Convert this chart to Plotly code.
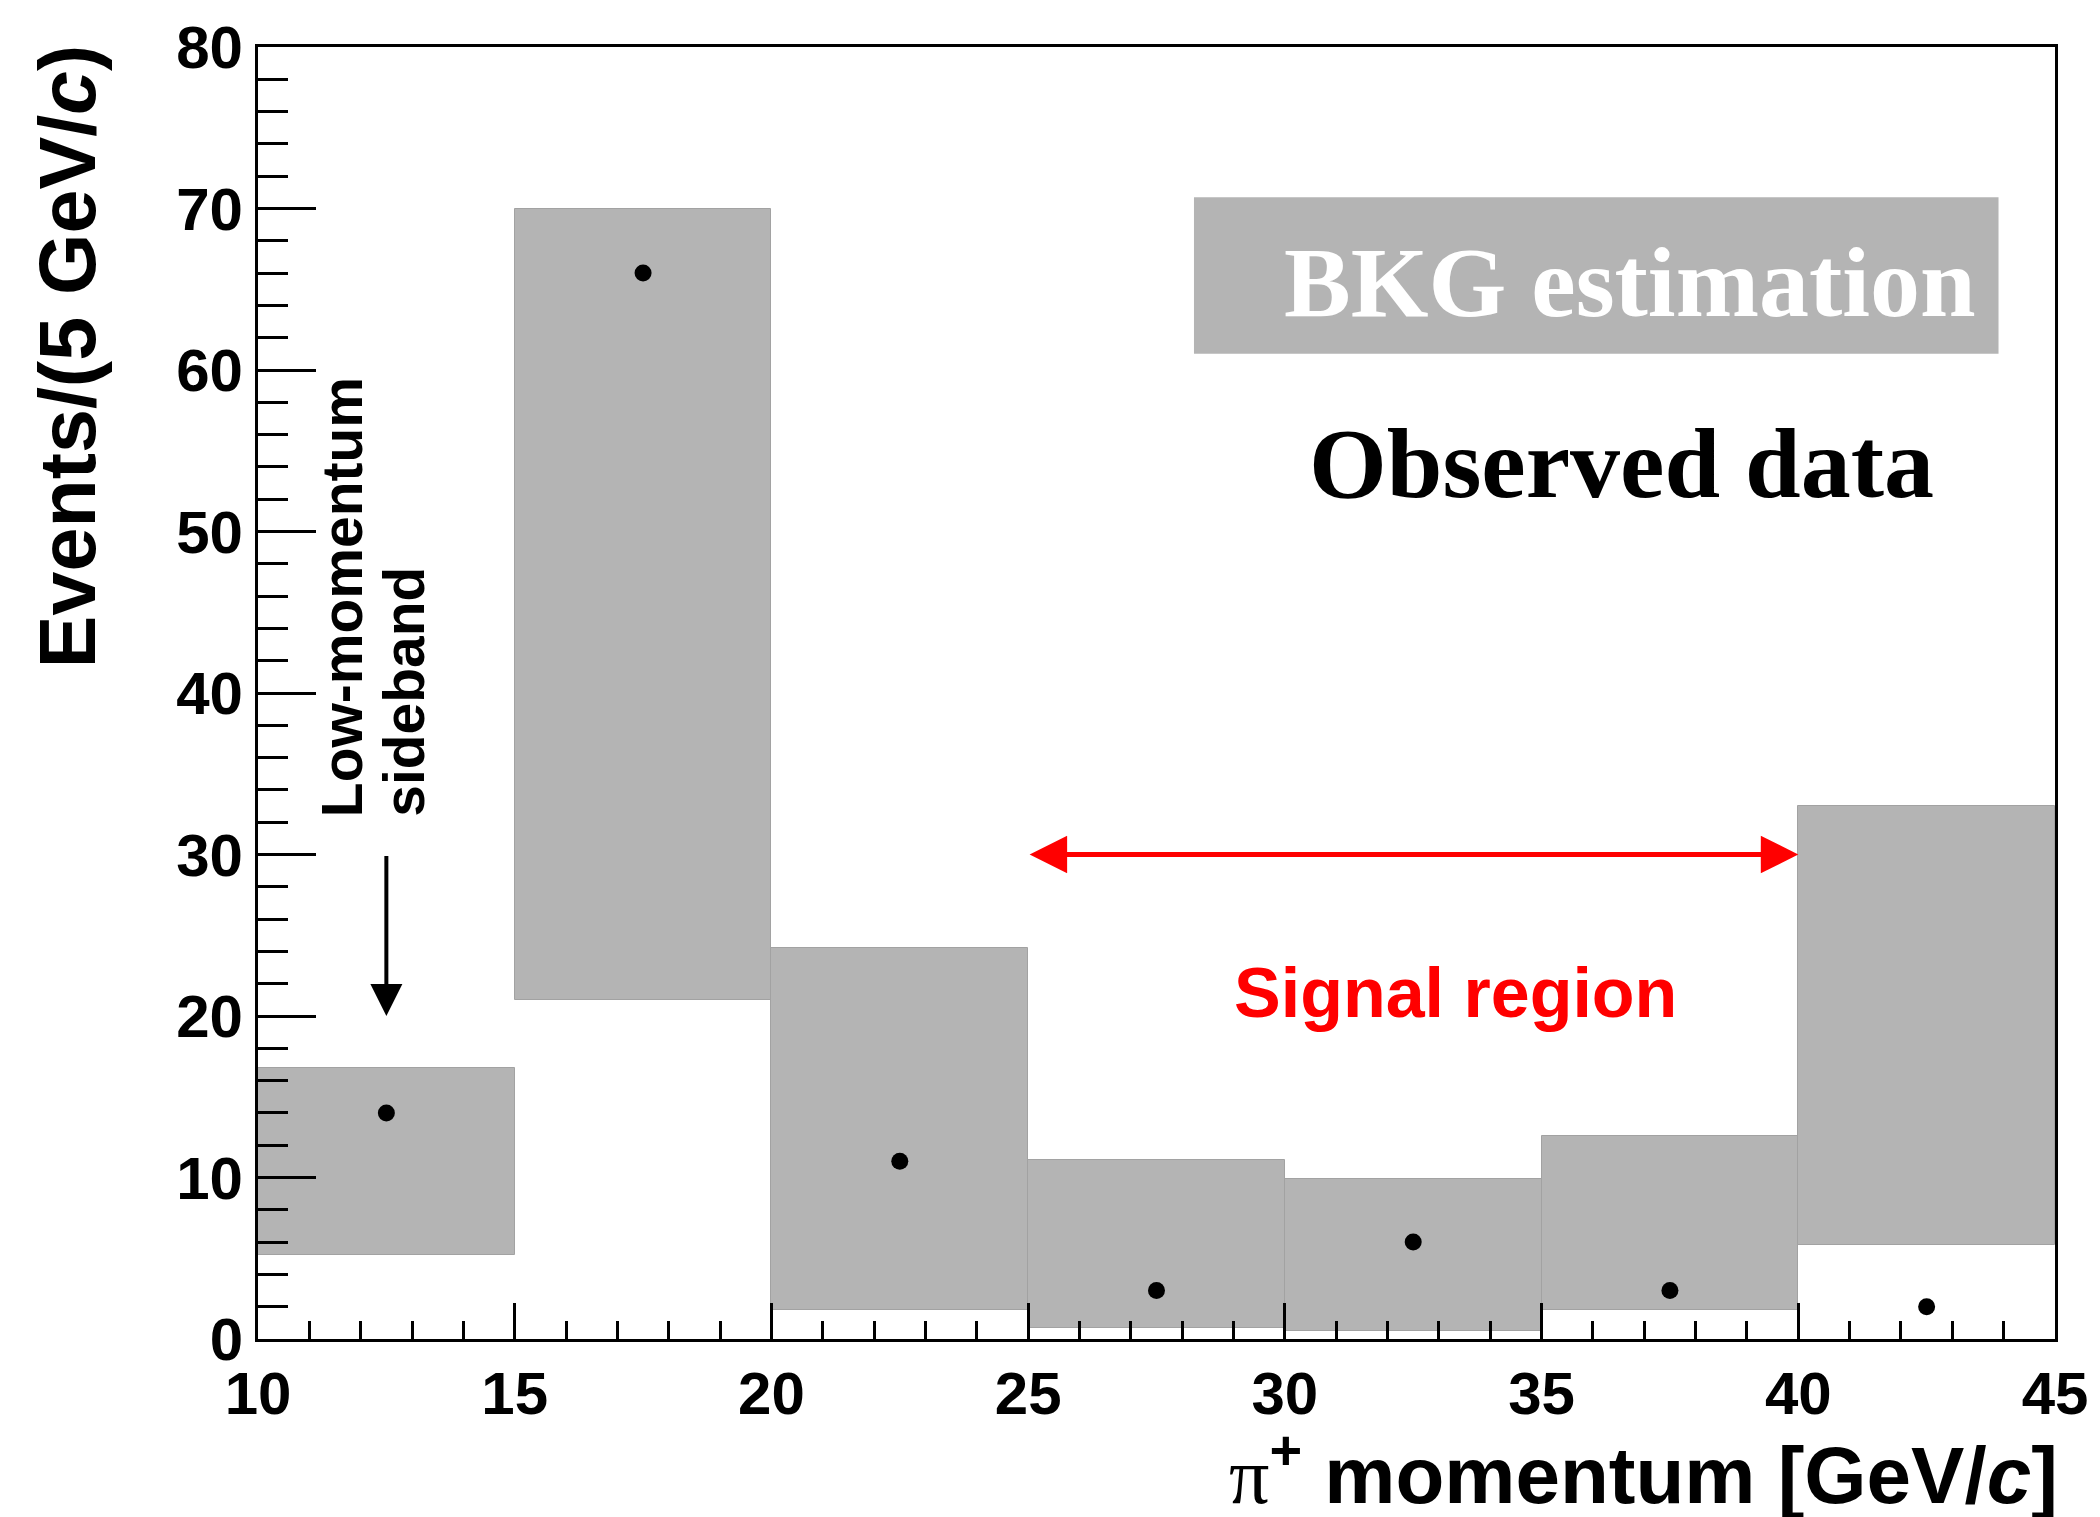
import plotly.graph_objects as go

# Momentum bins (GeV/c), 5 GeV/c wide
bin_low_edges = [10, 15, 20, 25, 30, 35, 40]
bin_width = 5
bin_centers = [e + bin_width / 2 for e in bin_low_edges]

# Background estimation band (lower / upper bound per bin)
bkg_lower = [5.2, 21.0, 1.8, 0.7, 0.5, 1.8, 5.8]
bkg_upper = [16.8, 70.0, 24.2, 11.1, 9.9, 12.6, 33.0]

# Observed events per bin
observed = [14, 66, 11, 3, 6, 3, 2]

# Signal region limits
signal_region = [25, 40]

GRAY = "#b4b4b4"
SANS = "Liberation Sans"
SERIF = "Liberation Serif"

fig = go.Figure()

fig.add_trace(go.Bar(
    x=bin_centers,
    y=[hi - lo for lo, hi in zip(bkg_lower, bkg_upper)],
    base=bkg_lower,
    width=bin_width,
    marker=dict(color=GRAY, line=dict(color="#a2a2a2", width=1)),
    showlegend=False,
    hoverinfo="skip",
))

fig.add_trace(go.Scatter(
    x=bin_centers,
    y=observed,
    mode="markers",
    marker=dict(color="black", size=17),
    showlegend=False,
))

axis_common = dict(
    showline=True, linecolor="black", linewidth=3, mirror=True,
    ticks="inside", tickcolor="black", tickwidth=2.5,
    showgrid=False, zeroline=False,
    tickfont=dict(family=SANS, size=60, color="black", weight="bold"),
)

fig.update_xaxes(
    range=[10, 45], dtick=5, tick0=10, ticklen=36,
    minor=dict(ticks="inside", dtick=1, ticklen=18, tickwidth=2.5, tickcolor="black"),
    **axis_common,
)
fig.update_yaxes(
    range=[0, 80], dtick=10, tick0=0, ticklen=58,
    minor=dict(ticks="inside", dtick=2, ticklen=30, tickwidth=2.5, tickcolor="black"),
    **axis_common,
)

annotations = [
    # axis titles
    dict(text="Events/(5 GeV/<i>c</i>)", xref="paper", yref="paper",
         x=-0.106, y=1.003, xanchor="center", yanchor="top", textangle=-90,
         showarrow=False, font=dict(family=SANS, size=79, color="black", weight="bold")),
    dict(text="<span style=\"font-family:'Liberation Serif';font-weight:normal\">π</span>"
              "<sup>+</sup> momentum [GeV/<i>c</i>]",
         xref="paper", yref="paper", x=1.003, y=-0.101, xanchor="right", yanchor="middle",
         showarrow=False, font=dict(family=SANS, size=80, color="black", weight="bold")),
    # sideband label and arrow
    dict(text="Low-momentum", x=11.64, y=32.2, xanchor="center", yanchor="bottom",
         textangle=-90, showarrow=False,
         font=dict(family=SANS, size=57, color="black", weight="bold")),
    dict(text="sideband", x=12.84, y=32.2, xanchor="center", yanchor="bottom",
         textangle=-90, showarrow=False,
         font=dict(family=SANS, size=57, color="black", weight="bold")),
    dict(text="", x=12.5, y=20, ax=12.5, ay=30, axref="x", ayref="y",
         showarrow=True, arrowhead=2, arrowsize=1.6, arrowwidth=4, arrowcolor="black",
         standoff=0),
    # signal region
    dict(text="", x=signal_region[1], y=30, ax=signal_region[0], ay=30, axref="x", ayref="y",
         showarrow=True, arrowhead=2, arrowside="end+start", arrowsize=1.5, arrowwidth=5,
         arrowcolor="#ff0000", standoff=0, startstandoff=0),
    dict(text="Signal region", x=33.33, y=21.4, xanchor="center", yanchor="middle",
         showarrow=False, font=dict(family=SANS, size=70, color="#ff0000", weight="bold")),
    # legend texts
    dict(text="BKG estimation", x=36.73, y=65.4, xanchor="center", yanchor="middle",
         showarrow=False, font=dict(family=SERIF, size=100, color="white", weight="bold")),
    dict(text="Observed data", x=36.55, y=54.2, xanchor="center", yanchor="middle",
         showarrow=False, font=dict(family=SERIF, size=100, color="black", weight="bold")),
]

fig.update_layout(
    width=2100, height=1517,
    margin=dict(l=258, r=35, t=47, b=178),
    paper_bgcolor="white", plot_bgcolor="white",
    bargap=0,
    annotations=annotations,
    shapes=[dict(type="rect", xref="x", yref="y", x0=28.23, x1=43.9, y0=61.0, y1=70.7,
                 fillcolor=GRAY, line=dict(width=0), layer="above")],
)

fig.write_html("out.html")
